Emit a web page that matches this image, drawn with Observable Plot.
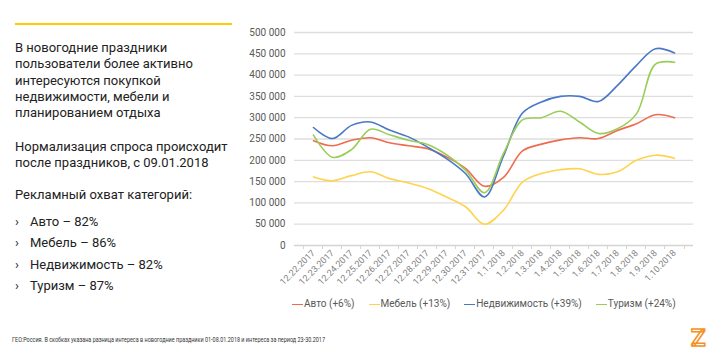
<!DOCTYPE html>
<html><head><meta charset="utf-8">
<script src="https://cdn.jsdelivr.net/npm/d3@7"></script>
<script src="https://cdn.jsdelivr.net/npm/@observablehq/plot@0.6"></script>
<style>
body{margin:0;width:716px;height:352px;position:relative;overflow:hidden;background:#fff;font-family:Roboto,"Open Sans",sans-serif;color:#222}
#rule{position:absolute;left:15px;top:23px;width:217px;height:2px;background:#ffcc00}
.p{position:absolute;left:15px;font-size:13px;line-height:16.3px;margin:0}
.b{position:absolute;left:15px;font-size:13px}
.b span{display:inline-block;width:15px}
#chart{position:absolute;left:0;top:0}
#legend{position:absolute;top:298px;left:292px;font-size:10px;color:#595959;white-space:nowrap}
#legend .it{display:inline-block;margin-right:14px}
#legend .sw{display:inline-block;width:11px;height:1.6px;vertical-align:middle;margin-right:1px}
#foot{position:absolute;left:0;top:0}
</style></head><body>
<div id="rule"></div>
<p class="p" style="top:40px">В новогодние праздники<br>пользователи более активно<br>интересуются покупкой<br>недвижимости, мебели и<br>планированием отдыха</p>
<p class="p" style="top:139px">Нормализация спроса происходит<br>после праздников, с 09.01.2018</p>
<p class="p" style="top:187px">Рекламный охват категорий:</p>
<div class="b" style="top:214px"><span>›</span>Авто – 82%</div>
<div class="b" style="top:235px"><span>›</span>Мебель – 86%</div>
<div class="b" style="top:257px"><span>›</span>Недвижимость – 82%</div>
<div class="b" style="top:278px"><span>›</span>Туризм – 87%</div>
<div id="chart"></div>
<div id="legend"></div>
<svg id="foot" width="716" height="352" style="pointer-events:none">
<text x="12" y="342" font-size="8" fill="#333" textLength="313" lengthAdjust="spacingAndGlyphs" font-family="Roboto, sans-serif">ГЕО:Россия. В скобках указана разница интереса в новогодние праздники 01-08.01.2018 и интереса за период 23-30.2017</text>
<text x="691" y="346" font-size="24" font-weight="bold" fill="#fff" stroke="#f5921e" stroke-width="1.5" font-family="Roboto, sans-serif">Z</text>
</svg>
<script>
const dates = ["12.22.2017","12.23.2017","12.24.2017","12.25.2017","12.26.2017","12.27.2017","12.28.2017","12.29.2017","12.30.2017","12.31.2017","1.1.2018","1.2.2018","1.3.2018","1.4.2018","1.5.2018","1.6.2018","1.7.2018","1.8.2018","1.9.2018","1.10.2018"];
const seriesNames = ["Авто (+6%)","Мебель (+13%)","Недвижимость (+39%)","Туризм (+24%)"];
const seriesColors = ["#ef6b4f","#ffd34e","#4a78c6","#9acd58"];
const avto = [246000,234000,247000,253000,241000,234000,227000,208000,181000,139000,160000,222000,238000,248000,253000,251000,270000,286000,307000,300000];
const mebel = [161000,152000,164000,173000,157000,147000,134000,114000,91000,50000,83000,149000,169000,178000,180000,167000,173000,200000,212000,205000];
const nedv = [277000,251000,282000,290000,271000,255000,231000,204000,169000,114000,210000,311000,337000,350000,350000,338000,376000,423000,462000,452000];
const tur = [259000,207000,225000,273000,260000,247000,237000,213000,177000,124000,216000,295000,300000,315000,290000,263000,274000,309000,426000,430000];
const yTicks = [0,50000,100000,150000,200000,250000,300000,350000,400000,450000,500000];

const all = [avto, mebel, nedv, tur];
const rows = [];
all.forEach((arr, s) => arr.forEach((v, i) => rows.push({series: seriesNames[s], date: dates[i], value: v})));

const W = 716, ML = 294, MR = 23;
const step = (W - ML - MR) / dates.length;
const fmt = d => d === 0 ? "0" : d3.format(",")(d).replace(/,/g, "\u00a0");

const chart = Plot.plot({
  width: W, height: 352,
  marginLeft: ML, marginRight: MR, marginTop: 32, marginBottom: 107,
  style: {fontFamily: "Roboto, sans-serif", fontSize: "10px", color: "#595959", background: "transparent", overflow: "visible"},
  x: {type: "point", domain: dates, padding: 0.5, label: null},
  y: {domain: [0, 500000], label: null},
  color: {domain: seriesNames, range: seriesColors},
  marks: [
    Plot.gridY(yTicks.slice(1), {stroke: "#dedede", strokeOpacity: 1, strokeWidth: 1.3}),
    Plot.ruleY([0], {stroke: "#d4d4d4", strokeWidth: 1.3}),
    Plot.axisY(yTicks, {tickSize: 0, tickPadding: 9, tickFormat: fmt, fill: "#595959", fontSize: 10, label: null}),
    Plot.axisX(dates, {tickSize: 4, tickFormat: () => "", dx: -step / 2, stroke: "#d4d4d4", label: null}),
    Plot.axisX([dates[dates.length - 1]], {tickSize: 4, tickFormat: () => "", dx: step / 2, stroke: "#d4d4d4", label: null}),
    Plot.axisX(dates, {tickSize: 0, tickPadding: 6, tickRotate: -45, fontSize: 9, fill: "#7f7f7f", label: null}),
    Plot.line(rows, {x: "date", y: "value", z: "series", stroke: "series", curve: "catmull-rom", strokeWidth: 1.6})
  ]
});
document.getElementById("chart").appendChild(chart);

const lg = document.getElementById("legend");
seriesNames.forEach((n, i) => {
  const it = document.createElement("span");
  it.className = "it";
  const sw = document.createElement("span");
  sw.className = "sw";
  sw.style.background = seriesColors[i];
  it.appendChild(sw);
  it.appendChild(document.createTextNode(n));
  lg.appendChild(it);
});
</script>
</body></html>
